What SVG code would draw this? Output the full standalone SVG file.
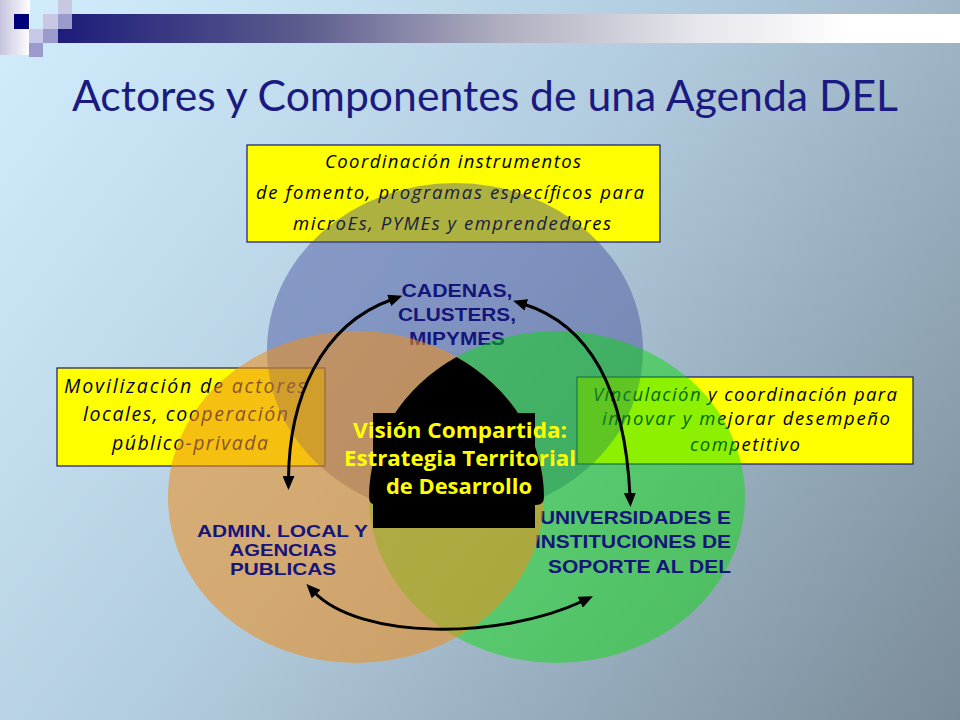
<svg xmlns="http://www.w3.org/2000/svg" width="960" height="720" viewBox="0 0 960 720">
<defs>
  <linearGradient id="bg" x1="0" y1="0" x2="960" y2="720" gradientUnits="userSpaceOnUse">
    <stop offset="0" stop-color="#d2eefd"/>
    <stop offset="0.45" stop-color="#b3cde0"/>
    <stop offset="1" stop-color="#7a8b98"/>
  </linearGradient>
  <linearGradient id="band" x1="58" y1="0" x2="960" y2="0" gradientUnits="userSpaceOnUse">
    <stop offset="0" stop-color="#1c1c7a"/>
    <stop offset="0.27" stop-color="#5c5c8e"/>
    <stop offset="0.49" stop-color="#aeaebf"/>
    <stop offset="0.71" stop-color="#e6e6ec"/>
    <stop offset="0.88" stop-color="#ffffff"/>
    <stop offset="1" stop-color="#ffffff"/>
  </linearGradient>
  <linearGradient id="strip" x1="0" y1="0" x2="30" y2="0" gradientUnits="userSpaceOnUse">
    <stop offset="0" stop-color="#c4c4de"/>
    <stop offset="1" stop-color="#ffffff"/>
  </linearGradient>
  <marker id="ah" viewBox="0 0 14 12" refX="3" refY="6" markerWidth="14" markerHeight="12" markerUnits="userSpaceOnUse" orient="auto-start-reverse">
    <path d="M0,0 L14,6 L0,12 z" fill="#000"/>
  </marker>
  <style>
    .box { fill:#ffff00; stroke:#1a1a60; stroke-width:1.2; }
    .it { font-family:"Open Sans","DejaVu Sans",sans-serif; font-style:italic; font-size:18.5px; text-anchor:middle; fill:#000; }
    .itl { fill:#000040; font-size:19.5px; }
    .lbl { font-family:"Liberation Sans",Arial,sans-serif; font-weight:bold; font-size:18.5px; fill:#15157a; }
    .lbs { font-size:16.5px; }
    .vis { font-family:"Open Sans","DejaVu Sans",sans-serif; font-weight:bold; font-size:21.5px; fill:#ffff00; text-anchor:middle; }
    .arr { fill:none; stroke:#000; stroke-width:3; marker-start:url(#ah); marker-end:url(#ah); }
  </style>
</defs>

<!-- background -->
<rect x="0" y="0" width="960" height="720" fill="url(#bg)"/>

<!-- header decoration -->
<g id="header">
  <rect x="0" y="0" width="30" height="55" fill="url(#strip)"/>
  <rect x="58" y="14" width="902" height="29" fill="url(#band)"/>
  <rect x="58" y="14" width="14" height="15" fill="#9a9acc"/>
  <rect x="14" y="14" width="15" height="15" fill="#00007a"/>
  <rect x="58" y="0" width="14" height="14" fill="#c8c8e2"/>
  <rect x="43" y="14" width="15" height="15" fill="#c8c8e4"/>
  <rect x="29" y="29" width="14" height="14" fill="#c8c8e8"/>
  <rect x="43" y="29" width="15" height="14" fill="#9a9acc"/>
  <rect x="29" y="43" width="14" height="14" fill="#9a9acc"/>
</g>

<!-- title -->
<text id="title" x="485" y="111" font-family="Lato,'Open Sans',sans-serif" font-size="42" fill="#1a1a80" text-anchor="middle" textLength="826" lengthAdjust="spacingAndGlyphs">Actores y Componentes de una Agenda DEL</text>

<!-- yellow boxes (below circles) -->
<g id="box-top">
  <rect class="box" x="247" y="145" width="413" height="97"/>
  <text class="it" x="453" y="168" textLength="256">Coordinación instrumentos</text>
  <text class="it" x="450" y="199" textLength="388">de fomento, programas específicos para</text>
  <text class="it" x="452" y="230" textLength="318">microEs, PYMEs y emprendedores</text>
</g>
<g id="box-left">
  <rect class="box" x="57" y="368" width="268" height="98"/>
  <text class="it itl" x="185" y="393" textLength="242">Movilización de actores</text>
  <text class="it itl" x="185.5" y="421" textLength="205">locales, cooperación</text>
  <text class="it itl" x="190" y="450" textLength="156">público-privada</text>
</g>
<g id="box-right">
  <rect class="box" x="577" y="377" width="336" height="87"/>
  <text class="it" x="745" y="401" textLength="304">Vinculación y coordinación para</text>
  <text class="it" x="746" y="425" textLength="288">innovar y mejorar desempeño</text>
  <text class="it" x="745" y="451" textLength="110">competitivo</text>
</g>

<!-- circles -->
<g id="circle-cadenas">
  <ellipse cx="455" cy="350" rx="188" ry="167" fill="#3c4696" fill-opacity="0.42"/>
  <text class="lbl" x="457" y="297" text-anchor="middle" textLength="111" lengthAdjust="spacingAndGlyphs">CADENAS,</text>
  <text class="lbl" x="457" y="321" text-anchor="middle" textLength="118" lengthAdjust="spacingAndGlyphs">CLUSTERS,</text>
  <text class="lbl" x="457" y="345" text-anchor="middle" textLength="96" lengthAdjust="spacingAndGlyphs">MIPYMES</text>
</g>
<g id="circle-universidades">
  <ellipse cx="557" cy="497" rx="188" ry="166" fill="#00de00" fill-opacity="0.45"/>
  <text class="lbl" x="731" y="524" text-anchor="end" textLength="191" lengthAdjust="spacingAndGlyphs">UNIVERSIDADES  E</text>
  <text class="lbl" x="731" y="548" text-anchor="end" textLength="196" lengthAdjust="spacingAndGlyphs">INSTITUCIONES DE</text>
  <text class="lbl" x="731" y="573" text-anchor="end" textLength="183" lengthAdjust="spacingAndGlyphs">SOPORTE AL DEL</text>
</g>
<g id="circle-admin">
  <ellipse cx="356" cy="497" rx="188" ry="166" fill="#ed8f1d" fill-opacity="0.56"/>
  <text class="lbl lbs" x="282.5" y="537" text-anchor="middle" textLength="171" lengthAdjust="spacingAndGlyphs">ADMIN. LOCAL Y</text>
  <text class="lbl lbs" x="283" y="556" text-anchor="middle" textLength="107" lengthAdjust="spacingAndGlyphs">AGENCIAS</text>
  <text class="lbl lbs" x="283" y="575" text-anchor="middle" textLength="106" lengthAdjust="spacingAndGlyphs">PUBLICAS</text>
</g>

<!-- shared vision -->
<g id="vision">
  <path d="M456.5 357 A188 166 0 0 1 544 497 Q544 505 536 505 L377 505 Q369 505 369 497 A188 166 0 0 1 456.5 357 Z" fill="#000"/>
  <rect x="373" y="413" width="162" height="115" fill="#000"/>
  <text class="vis" x="460" y="438" textLength="214" lengthAdjust="spacingAndGlyphs">Visión Compartida:</text>
  <text class="vis" x="460" y="466" textLength="232" lengthAdjust="spacingAndGlyphs">Estrategia Territorial</text>
  <text class="vis" x="459" y="494" textLength="146" lengthAdjust="spacingAndGlyphs">de Desarrollo</text>
</g>

<!-- connectors -->
<g id="connectors">
  <path class="arr" d="M288.5 479 C289 400 320 325 392 299.5"/>
  <path class="arr" d="M523.5 304 C590 325 625 390 630 496"/>
  <path class="arr" d="M314 592 C360 640 500 640 583 601"/>
</g>
</svg>
